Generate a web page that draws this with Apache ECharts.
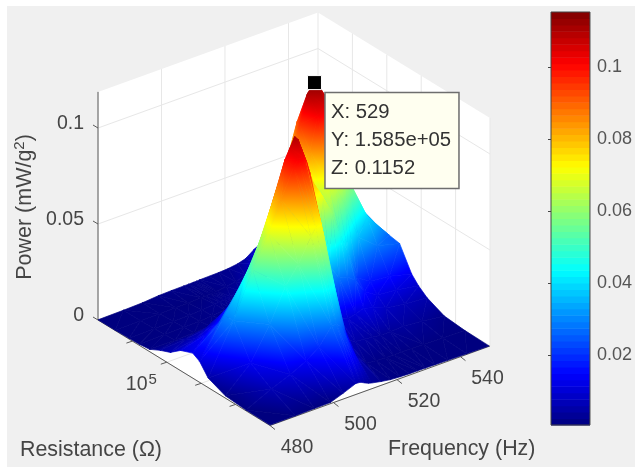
<!DOCTYPE html>
<html><head><meta charset="utf-8">
<style>html,body{margin:0;padding:0;background:#fff;overflow:hidden}#c{width:635px;height:467px;filter:blur(0.5px)}</style>
<script src="https://cdn.jsdelivr.net/npm/echarts@6/dist/echarts.min.js"></script>
</head><body><div id="c"></div>
<script>
// ---- data ----
const frequencies = [480,488,494,499,503,507,508.5,510,511,512,515,518,521,524,526.5,529,532,536,542,549];
const logResistance = [2,2.7,3.3,3.8,4.05,4.25,4.6,4.9,5.2,5.5,5.8,6.1,6.5,7];
const powerR20 = [.0002,.0003,.0005,.0006,.003,.0057,.0055,.0042,.0035,.003,.002,.0012,.0009,.0007,.0007,.0007,.0006,.0005,.0003,.0002];
const powerR27 = [.0004,.0065,.0105,.0145,.0195,.028,.028,.026,.022,.017,.007,.002,.0015,.0013,.0013,.0013,.0012,.001,.0008,.0005];
const powerR33 = [.0012,.0135,.03,.047,.056,.068,.072,.074,.066,.055,.024,.0075,.005,.0045,.004,.0035,.0035,.004,.003,.0015];
const powerR38 = [.005,.03,.053,.069,.084,.099,.102,.102,.099,.093,.056,.03,.012,.0095,.0105,.012,.0105,.008,.0065,.0055];
const powerR405 = [.011,.03,.045,.062,.08,.1,.105,.11,.108,.103,.085,.05,.036,.028,.027,.024,.016,.012,.011,.009];
const powerR425 = [.013,.023,.0365,.05,.066,.085,.091,.095,.097,.098,.094,.079,.07,.06,.047,.036,.021,.017,.016,.013];
const powerR46 = [.0105,.014,.02,.033,.044,.06,.066,.072,.076,.08,.082,.074,.067,.067,.07,.066,.055,.036,.028,.025];
const powerR49 = [.0062,.0085,.013,.02,.027,.038,.044,.05,.054,.058,.062,.0625,.07,.085,.102,.105,.088,.063,.04,.026];
const powerR52 = [.004,.0048,.0065,.011,.014,.018,.02,.022,.024,.026,.032,.05,.07,.095,.11,.1152,.1056,.0771,.043,.027];
const powerR55 = [.0012,.0012,.0015,.002,.0026,.0035,.0045,.0055,.0065,.0075,.0115,.02,.04,.078,.092,.0969,.0883,.0646,.0359,.027];
const powerR58 = [.0006,.0008,.001,.0012,.0016,.0022,.0027,.0033,.0038,.0045,.0068,.0101,.018,.045,.06,.0666,.0608,.0445,.0247,.018];
const powerR61 = [.0004,.0005,.0007,.001,.0013,.0019,.0022,.0025,.0028,.003,.0042,.0058,.009,.0166,.03,.0414,.0379,.0277,.0154,.0095];
const powerR65 = [.0002,.0003,.0004,.0005,.0006,.0009,.001,.0012,.0013,.0014,.002,.0027,.0045,.0085,.0152,.0207,.0189,.0138,.0077,.0045];
const powerR70 = [.0001,.0003,.0006,.0013,.0015,.0016,.0016,.0017,.0017,.0018,.0019,.002,.0023,.003,.0042,.0072,.0075,.0058,.0032,.0012];
const power = [powerR20,powerR27,powerR33,powerR38,powerR405,powerR425,powerR46,powerR49,powerR52,powerR55,powerR58,powerR61,powerR65,powerR70];

const freqTicks = [480,500,520,540];
const freqTickLabels = ['480','500','520','540'];
const resTicks = [3,4,5,6];
const resMajorTick = 5;
const zTicks = [0,0.05,0.1];
const zTickLabels = ['0','0.05','0.1'];
const cbarTicks = [0.02,0.04,0.06,0.08,0.1];
const peak = {f:529, x:5.2, z:0.1152};
const tipLines = ['X: 529','Y: 1.585e+05','Z: 0.1152'];

// ---- scales / view ----
const fMin=480,fMax=549.3,xMin=2,xMax=7,zMin=0,zTop=0.1188,cMin=0.0006,cMax=0.1152;
const cornerF=[270,425.5],cornerR=[490,346],cornerL=[98,320],zPx=1920;
const FONT='"Liberation Sans",Arial,sans-serif', TXT='#454545';
const jet=[[0,'#00007f'],[.125,'#0000ff'],[.375,'#00ffff'],[.625,'#ffff00'],[.875,'#ff0000'],[1,'#7f0000']];
function hex(c){return [1,3,5].map(k=>parseInt(c.substr(k,2),16));}
function jetAt(t){t=Math.max(0,Math.min(1,t));for(let k=1;k<jet.length;k++){if(t<=jet[k][0]){const a=jet[k-1],b=jet[k],u=(t-a[0])/(b[0]-a[0]),A=hex(a[1]),B=hex(b[1]);return 'rgb('+A.map((v,n)=>Math.round(v+(B[n]-v)*u)).join(',')+')';}}return jet[5][1];}
const tOf=z=>(z-cMin)/(cMax-cMin);
function project(f,x,z){const tf=(f-fMin)/(fMax-fMin),tr=(x-xMin)/(xMax-xMin);
  return [cornerF[0]+tf*(cornerR[0]-cornerF[0])+tr*(cornerL[0]-cornerF[0]),
          cornerF[1]+tf*(cornerR[1]-cornerF[1])+tr*(cornerL[1]-cornerF[1])-z*zPx];}

function triangle(api,v){ // v: [[f,x,z],...] filled so that colour follows z exactly
  const p=v.map(a=>api.coord(project(a[0],a[1],a[2]))), z=v.map(a=>Math.max(a[2],cMin));
  const ux=p[1][0]-p[0][0],uy=p[1][1]-p[0][1],vx=p[2][0]-p[0][0],vy=p[2][1]-p[0][1];
  const dz1=z[1]-z[0],dz2=z[2]-z[0],det=ux*vy-uy*vx;
  let fill;
  const lo=Math.min(...z),hi=Math.max(...z);
  if(Math.abs(det)<1e-6||hi-lo<1e-7){fill=jetAt(tOf((lo+hi)/2));}
  else{
    const a=(dz1*vy-dz2*uy)/det,b=(ux*dz2-vx*dz1)/det,n=a*a+b*b,k=z.indexOf(lo);
    const x0=p[k][0],y0=p[k][1],x1=x0+a*(hi-lo)/n,y1=y0+b*(hi-lo)/n;
    const tl=tOf(lo),th=tOf(hi),stops=[{offset:0,color:jetAt(tl)}];
    jet.forEach(s=>{if(s[0]>tl&&s[0]<th)stops.push({offset:(s[0]-tl)/(th-tl),color:s[1]});});
    stops.push({offset:1,color:jetAt(th)});
    fill=new echarts.graphic.LinearGradient(x0,y0,x1,y1,stops,true);
  }
  return {type:'polygon',shape:{points:p},style:{fill:fill,stroke:fill,lineWidth:0.7,lineJoin:'round'}};
}

const cells=[];
for(let i=frequencies.length-2;i>=0;i--)for(let j=logResistance.length-2;j>=0;j--)cells.push([i,j]);

function renderCell(params,api){
  const [i,j]=cells[params.dataIndex];
  const A=[frequencies[i],logResistance[j],power[j][i]],B=[frequencies[i+1],logResistance[j],power[j][i+1]],
        C=[frequencies[i+1],logResistance[j+1],power[j+1][i+1]],D=[frequencies[i],logResistance[j+1],power[j+1][i]];
  const bd=Math.abs(B[2]-D[2])<=Math.abs(A[2]-C[2]);
  const tris=bd?[[B,C,D],[A,B,D]]:[[D,C,A],[C,B,A]];
  return {type:'group',children:tris.map(t=>triangle(api,t))};
}

function renderPanes(params,api){
  const P=(f,x,z)=>api.coord(project(f,x,z)), ch=[];
  const poly=(pts)=>({type:'polygon',shape:{points:pts},style:{fill:'#ffffff'}});
  ch.push(poly([P(fMin,xMax,0),P(fMax,xMax,0),P(fMax,xMax,zTop),P(fMin,xMax,zTop)]));
  ch.push(poly([P(fMax,xMin,0),P(fMax,xMax,0),P(fMax,xMax,zTop),P(fMax,xMin,zTop)]));
  ch.push(poly([P(fMin,xMin,0),P(fMax,xMin,0),P(fMax,xMax,0),P(fMin,xMax,0)]));
  const line=(a,b,c)=>({type:'line',shape:{x1:a[0],y1:a[1],x2:b[0],y2:b[1]},style:{stroke:c||'#e7e7e7',lineWidth:1}});
  freqTicks.concat([fMax]).forEach(f=>{ch.push(line(P(f,xMax,0),P(f,xMax,zTop)));ch.push(line(P(f,xMin,0),P(f,xMax,0)));});
  resTicks.concat([xMin]).forEach(x=>{ch.push(line(P(fMax,x,0),P(fMax,x,zTop)));ch.push(line(P(fMin,x,0),P(fMax,x,0)));});
  zTicks.forEach(z=>{ch.push(line(P(fMin,xMax,z),P(fMax,xMax,z)));ch.push(line(P(fMax,xMax,z),P(fMax,xMin,z)));});
  const dark='#5a5a5a';
  ch.push(line(P(fMin,xMax,0),P(fMin,xMax,zTop),dark));
  ch.push(line(P(fMin,xMax,0),P(fMin,xMin,0),dark));
  ch.push(line(P(fMin,xMin,0),P(fMax,xMin,0),dark));
  [3,4,5,6].forEach(x=>{const a=P(fMin,x,0);ch.push(line(a,[a[0]-6,a[1]+2],dark));});
  freqTicks.forEach(f=>{const a=P(f,xMin,0);ch.push(line(a,[a[0]+5,a[1]+4],dark));});
  zTicks.forEach(z=>{const a=P(fMin,xMax,z);ch.push(line(a,[a[0]-5,a[1]-3],dark));});
  return {type:'group',children:ch};
}

function renderLabels(params,api){
  const P=(f,x,z)=>api.coord(project(f,x,z)), ch=[];
  const txt=(x,y,s,al,extra)=>({type:'text',x:x,y:y,style:Object.assign({text:s,fill:TXT,font:'19.5px '+FONT,align:al||'center',verticalAlign:'middle'},extra||{})});
  freqTicks.forEach((f,k)=>{const a=P(f,xMin,0);ch.push(txt(a[0]+27,a[1]+22,freqTickLabels[k]));});
  zTicks.forEach((z,k)=>{const a=P(fMin,xMax,z);ch.push(txt(a[0]-14,a[1]-4,zTickLabels[k],'right'));});
  const a=P(fMin,resMajorTick,0);
  ch.push(txt(a[0]-41,a[1]+22,'10{s|'+resMajorTick+'}','left',{rich:{s:{font:'15px '+FONT,fill:TXT,verticalAlign:'top',padding:[0,0,9,1]}}}));
  return {type:'group',children:ch};
}

function renderPeak(params,api){
  const p=api.coord(project(peak.f,peak.x,peak.z)), s=14, ch=[];
  ch.push({type:'rect',shape:{x:p[0]-s/2-1,y:p[1]-s/2+2,width:s,height:s},style:{fill:'#000',stroke:'#fff',lineWidth:1}});
  const bx=p[0]+9.5,by=p[1]+12,bw=134,bh=96;
  ch.push({type:'rect',shape:{x:bx,y:by,width:bw,height:bh},style:{fill:'#fffff0',stroke:'#6e6e6e',lineWidth:1.5}});
  tipLines.forEach((t,k)=>ch.push({type:'text',x:bx+6,y:by+20+k*28,style:{text:t,fill:'#333',font:'20.3px '+FONT,align:'left',verticalAlign:'middle'}}));
  return {type:'group',children:ch};
}

const cbarLevels=[];for(let k=0;k<64;k++)cbarLevels.push(k);
function renderCbar(params,api){
  const k=params.dataIndex,lo=cMin+(cMax-cMin)*k/64,hi=cMin+(cMax-cMin)*(k+1)/64;
  const a=api.coord([0,hi]),b=api.coord([1,lo]);
  return {type:'rect',shape:{x:a[0],y:a[1],width:b[0]-a[0],height:b[1]-a[1]+.5},style:{fill:jetAt((k+.5)/64)}};
}

const chart=echarts.init(document.getElementById('c'),null,{renderer:'canvas'});
chart.setOption({
  animation:false,
  backgroundColor:'#f0f0f0',
  graphic:[
    {type:'rect',silent:true,z:-10,shape:{x:0,y:0,width:635,height:6},style:{fill:'#fff'}},
    {type:'rect',silent:true,z:-10,shape:{x:0,y:0,width:7,height:467},style:{fill:'#fff'}},
    {type:'text',z:20,x:25,y:207,rotation:Math.PI/2,style:{text:'Power (mW/g{s|2})',fill:TXT,font:'21.5px '+FONT,align:'center',verticalAlign:'middle',rich:{s:{font:'15px '+FONT,fill:TXT,padding:[0,0,10,0]}}}},
    {type:'text',z:20,x:20,y:450,style:{text:'Resistance (\u03A9)',fill:TXT,font:'21.4px '+FONT,align:'left',verticalAlign:'middle'}},
    {type:'text',z:20,x:388,y:449,style:{text:'Frequency (Hz)',fill:TXT,font:'21.4px '+FONT,align:'left',verticalAlign:'middle'}}
  ],
  grid:[
    {left:0,top:0,width:635,height:467,show:false},
    {left:551,top:12,width:40,height:413,show:true,borderColor:'#444',borderWidth:1,z:5}
  ],
  xAxis:[
    {type:'value',gridIndex:0,min:0,max:635,show:false},
    {type:'value',gridIndex:1,min:0,max:1,show:false}
  ],
  yAxis:[
    {type:'value',gridIndex:0,min:0,max:467,inverse:true,show:false},
    {type:'value',gridIndex:1,min:cMin,max:cMax,position:'right',
     axisLine:{show:false},splitLine:{show:false},
     axisTick:{show:true,inside:true,length:3,customValues:cbarTicks,lineStyle:{color:'#444'}},
     axisLabel:{show:true,margin:7,customValues:cbarTicks,color:'#555',fontSize:18,fontFamily:'Liberation Sans',formatter:v=>String(+v.toFixed(2))}}
  ],
  series:[
    {type:'custom',name:'panes',xAxisIndex:0,yAxisIndex:0,clip:false,silent:true,z:1,data:[0],renderItem:renderPanes},
    {type:'custom',name:'surface',xAxisIndex:0,yAxisIndex:0,clip:false,silent:true,z:2,progressive:0,data:cells.map((c,k)=>k),renderItem:renderCell},
    {type:'custom',name:'labels',xAxisIndex:0,yAxisIndex:0,clip:false,silent:true,z:3,data:[0],renderItem:renderLabels},
    {type:'custom',name:'peak',xAxisIndex:0,yAxisIndex:0,clip:false,silent:true,z:4,data:[0],renderItem:renderPeak},
    {type:'custom',name:'colorbar',xAxisIndex:1,yAxisIndex:1,clip:false,silent:true,z:4,progressive:0,data:cbarLevels,renderItem:renderCbar}
  ]
});
</script></body></html>
